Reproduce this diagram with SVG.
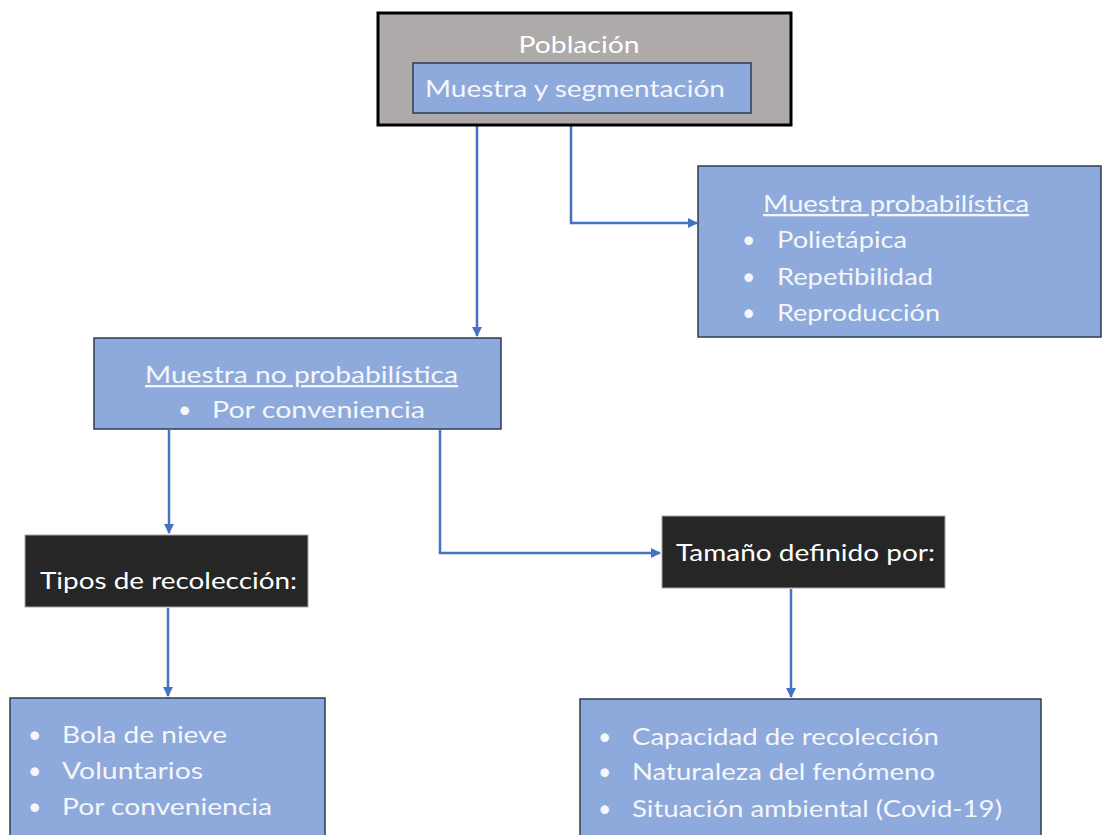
<svg xmlns="http://www.w3.org/2000/svg" width="1103" height="835" viewBox="0 0 1103 835">
<style>
.blue{fill:#8EA9DB;stroke:#2F3B52;stroke-width:1.5}
.dark{fill:#262626;stroke:#A6A6A6;stroke-width:1}
.t{font-family:Lato,"Open Sans","Liberation Sans",sans-serif;font-size:23px;fill:#F4F6FA}
.tw{font-family:Lato,"Open Sans","Liberation Sans",sans-serif;font-size:24px;fill:#FFFFFF}
.u{text-decoration:underline}
.con{fill:none;stroke:#4472C4;stroke-width:2.5;marker-end:url(#ah)}
</style>
<defs>
<marker id="ah" viewBox="0 0 10 10" refX="9" refY="5" markerWidth="4" markerHeight="4" orient="auto" markerUnits="strokeWidth">
<path d="M0,0 L10,5 L0,10 z" fill="#4472C4"/>
</marker>
</defs>
<rect width="1103" height="835" fill="#FFFFFF"/>
<g id="connectors">
<path class="con" d="M477,126 V336"/>
<path class="con" d="M571,126 V223 H697"/>
<path class="con" d="M169,430 V533"/>
<path class="con" d="M440,430 V553 H660"/>
<path class="con" d="M168,608 V696"/>
<path class="con" d="M791,589 V697"/>
</g>
<g id="poblacion">
<rect x="378" y="13" width="413" height="112" fill="#AEAAAA" stroke="#000000" stroke-width="3"/>
<text class="tw" x="579" y="53" text-anchor="middle" textLength="121" lengthAdjust="spacingAndGlyphs">Población</text>
<g id="muestra-segmentacion">
<rect x="413" y="63" width="338" height="50" class="blue"/>
<text class="t" x="425" y="97" font-size="26" textLength="300" lengthAdjust="spacingAndGlyphs">Muestra y segmentación</text>
</g>
</g>
<g id="muestra-probabilistica">
<rect x="698" y="166" width="403" height="171" class="blue"/>
<text class="t u" x="763" y="212" textLength="266" lengthAdjust="spacingAndGlyphs">Muestra probabilística</text>
<text class="t" x="742" y="248">•</text>
<text class="t" x="777" y="248" textLength="130" lengthAdjust="spacingAndGlyphs">Polietápica</text>
<text class="t" x="742" y="285">•</text>
<text class="t" x="777" y="285" textLength="156" lengthAdjust="spacingAndGlyphs">Repetibilidad</text>
<text class="t" x="742" y="321">•</text>
<text class="t" x="777" y="321" textLength="163" lengthAdjust="spacingAndGlyphs">Reproducción</text>
</g>
<g id="muestra-no-probabilistica">
<rect x="94" y="338" width="407" height="91" class="blue"/>
<text class="t u" x="145" y="383" textLength="313" lengthAdjust="spacingAndGlyphs">Muestra no probabilística</text>
<text class="t" x="178" y="418">•</text>
<text class="t" x="212" y="418" textLength="213" lengthAdjust="spacingAndGlyphs">Por conveniencia</text>
</g>
<g id="tipos-recoleccion">
<rect x="25" y="535" width="283" height="72" class="dark"/>
<text class="tw" x="40" y="589" font-size="26" textLength="257" lengthAdjust="spacingAndGlyphs">Tipos de recolección:</text>
</g>
<g id="tamano-definido">
<rect x="662" y="516" width="283" height="72" class="dark"/>
<text class="tw" x="676" y="561" font-size="26" textLength="259" lengthAdjust="spacingAndGlyphs">Tamaño definido por:</text>
</g>
<g id="lista-recoleccion">
<rect x="10" y="698" width="315" height="145" class="blue"/>
<text class="t" x="28" y="743">•</text>
<text class="t" x="62" y="743" textLength="165" lengthAdjust="spacingAndGlyphs">Bola de nieve</text>
<text class="t" x="28" y="779">•</text>
<text class="t" x="62" y="779" textLength="141" lengthAdjust="spacingAndGlyphs">Voluntarios</text>
<text class="t" x="28" y="815">•</text>
<text class="t" x="62" y="815" textLength="210" lengthAdjust="spacingAndGlyphs">Por conveniencia</text>
</g>
<g id="lista-tamano">
<rect x="580" y="699" width="461" height="145" class="blue"/>
<text class="t" x="598" y="745">•</text>
<text class="t" x="632" y="745" textLength="307" lengthAdjust="spacingAndGlyphs">Capacidad de recolección</text>
<text class="t" x="598" y="780">•</text>
<text class="t" x="632" y="780" textLength="303" lengthAdjust="spacingAndGlyphs">Naturaleza del fenómeno</text>
<text class="t" x="598" y="817">•</text>
<text class="t" x="632" y="817" textLength="370" lengthAdjust="spacingAndGlyphs">Situación ambiental (Covid-19)</text>
</g>
</svg>
